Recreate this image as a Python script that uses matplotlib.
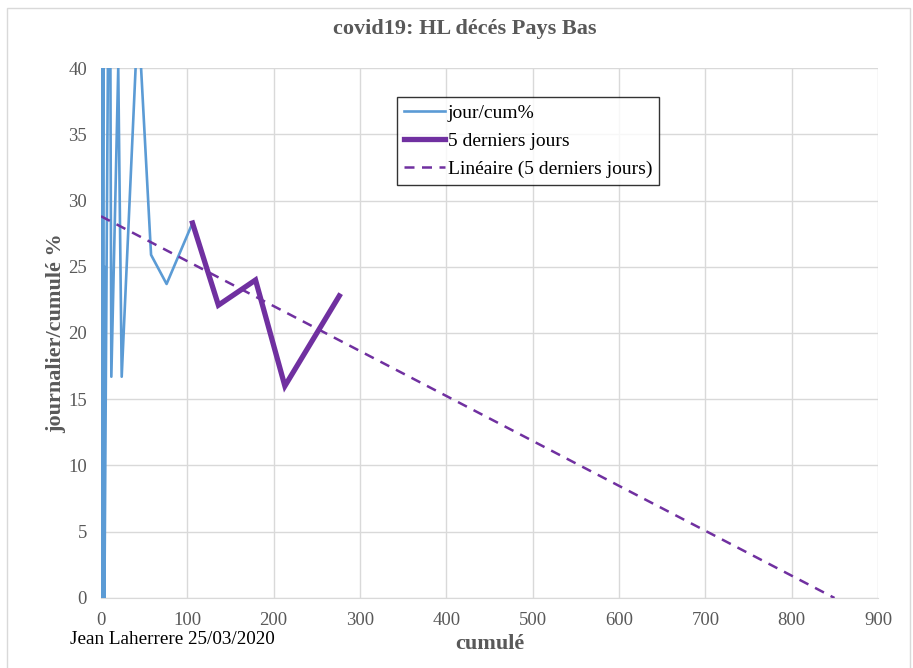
import matplotlib
matplotlib.use('Agg')
import matplotlib.pyplot as plt
from matplotlib.patches import Rectangle
import numpy as np

# cumulative deaths and daily/cumulative %
cum = [1, 1, 1, 1, 3, 3, 4, 4, 10, 12, 20, 24, 43, 58, 76, 106, 136, 179, 213, 276]
jour_cum = [100, 0, 0, 0, 66.7, 0, 25, 0, 60, 16.7, 40, 16.7, 44.2, 25.9, 23.7,
            28.3, 22.1, 24.0, 16.0, 22.8]

last5_cum = [106, 136, 179, 213, 276]
last5_val = [28.3, 22.1, 24.0, 16.0, 22.8]

xticks = [0, 100, 200, 300, 400, 500, 600, 700, 800, 900]
yticks = [0, 5, 10, 15, 20, 25, 30, 35, 40]

BLUE = '#5B9BD5'
PURPLE = '#7030A0'
GREY = '#595959'

plt.rcParams['font.family'] = ['Liberation Serif', 'DejaVu Serif']

fig = plt.figure(figsize=(9.13, 6.68), dpi=100)
ax = fig.add_axes([0.1106, 0.1048, 0.8511, 0.7934])

# outer chart frame
fig.patches.append(Rectangle((7 / 913, -0.01), 903 / 913, 1 - 8 / 668 + 0.01,
                             transform=fig.transFigure, fill=False,
                             edgecolor='#D9D9D9', linewidth=1.0))

ax.plot(cum, jour_cum, color=BLUE, lw=1.9, label='jour/cum%', zorder=3)
ax.plot(last5_cum, last5_val, color=PURPLE, lw=3.8, label='5 derniers jours',
        zorder=4, solid_joinstyle='miter')

# linear trend on last 5 days (as Excel trendline)
a, b = np.polyfit(last5_cum, last5_val, 1)
xt = np.array([0, -b / a])
ax.plot(xt, a * xt + b, color=PURPLE, lw=1.8, ls=(0, (4, 3)),
        label='Linéaire (5 derniers jours)', zorder=5)

ax.set_xlim(0, 900)
ax.set_ylim(0, 40)
ax.set_xticks(xticks)
ax.set_yticks(yticks)
ax.grid(True, color='#D9D9D9', lw=1.0)
ax.set_axisbelow(True)
for s in ['top', 'right', 'left']:
    ax.spines[s].set_visible(False)
ax.spines['bottom'].set_color('#D9D9D9')
ax.tick_params(length=0, labelsize=13.5, labelcolor=GREY)
ax.tick_params(axis='x', pad=10)
ax.tick_params(axis='y', pad=10)

ax.set_xlabel('cumulé', fontsize=16, fontweight='bold', color=GREY, labelpad=4)
ax.set_ylabel('journalier/cumulé %', fontsize=16, fontweight='bold', color=GREY,
              labelpad=1.5)
fig.text(0.509, 0.957, 'covid19: HL décés Pays Bas', ha='center', va='center',
         fontsize=16, fontweight='bold', color=GREY)
fig.text(70 / 913, 1 - 640 / 668, 'Jean Laherrere 25/03/2020', ha='left',
         va='center', fontsize=13.8, color='black')

leg = ax.legend(loc='upper left', bbox_to_anchor=(0.381, 0.945), fontsize=14,
                frameon=True, fancybox=False, edgecolor='black',
                handlelength=2.1, handletextpad=0.15, borderpad=0.35,
                labelspacing=0.55, borderaxespad=0)
leg.get_frame().set_linewidth(1.0)

fig.savefig('out.png', dpi=100)
